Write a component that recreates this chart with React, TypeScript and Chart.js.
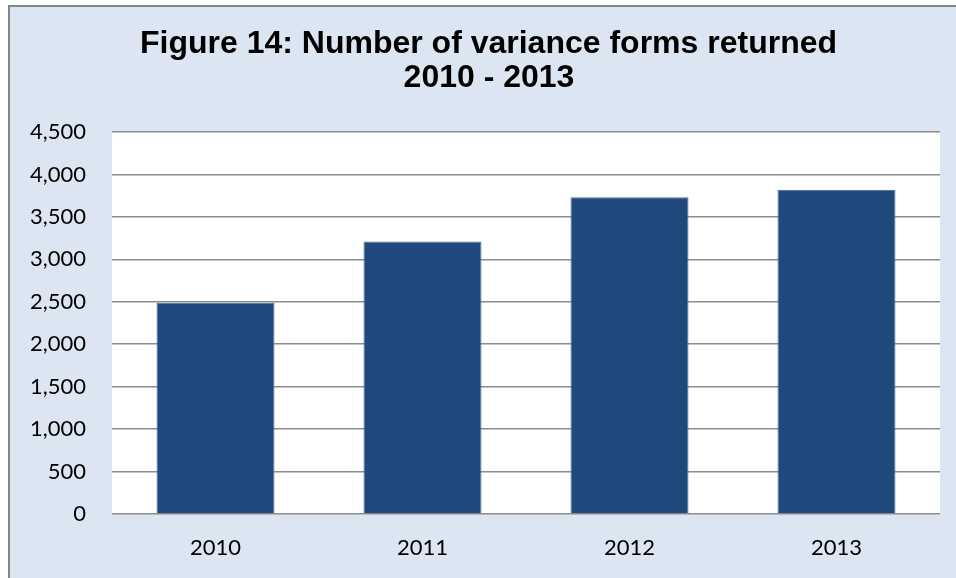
import React, { useEffect, useRef } from "react";
import { Chart, registerables } from "chart.js";

Chart.register(...registerables);

const titleLines = ["Figure 14: Number of variance forms returned", "2010 - 2013"];
const categories = ["2010", "2011", "2012", "2013"];
const formsReturned = [2490, 3210, 3730, 3820];
const yTickMax = 4500;
const yTickStep = 500;

const BAR_COLOR = "#1f497d";
const BG = "#dce6f2";

export default function App() {
  const ref = useRef<HTMLCanvasElement | null>(null);

  useEffect(() => {
    if (!ref.current) return;
    const plotBg = {
      id: "plotBg",
      beforeDraw(chart: any) {
        const { ctx, chartArea } = chart;
        ctx.save();
        ctx.fillStyle = "#ffffff";
        ctx.fillRect(chartArea.left, chartArea.top, chartArea.right - chartArea.left, chartArea.bottom - chartArea.top);
        ctx.restore();
      },
      afterDraw(chart: any) {
        const { ctx } = chart;
        ctx.save();
        ctx.fillStyle = "#000000";
        ctx.font = "bold 32px 'Liberation Sans', Arial, sans-serif";
        ctx.textAlign = "center";
        ctx.textBaseline = "middle";
        ctx.fillText(titleLines[0], 478.5, 37);
        ctx.fillText(titleLines[1], 479, 71);
        ctx.restore();
      },
    };

    const chart = new Chart(ref.current, {
      type: "bar",
      data: {
        labels: categories,
        datasets: [
          {
            data: formsReturned,
            backgroundColor: BAR_COLOR,
            borderColor: "#4a6a96",
            borderWidth: 1,
            barPercentage: 1,
            categoryPercentage: 0.57,
          },
        ],
      },
      options: {
        animation: false,
        responsive: false,
        maintainAspectRatio: false,
        layout: { padding: { top: 125, right: 16, bottom: 0, left: 0 } },
        plugins: {
          legend: { display: false },
          title: { display: false },
          tooltip: { enabled: false },
        },
        scales: {
          x: {
            grid: { display: false, drawTicks: false },
            border: { display: false },
            ticks: {
              color: "#000000",
              font: { family: "Lato", size: 22 },
              padding: 21,
            },
            afterFit(scale: any) {
              scale.height = 64;
            },
          },
          y: {
            min: 0,
            max: yTickMax,
            grid: { color: "#8c8c8c", lineWidth: 1.5, drawTicks: false },
            border: { display: false },
            ticks: {
              stepSize: yTickStep,
              color: "#000000",
              font: { family: "Lato", size: 22 },
              padding: 26,
              callback: (v: any) => Number(v).toLocaleString("en-US"),
            },
            afterFit(scale: any) {
              scale.width = 102;
            },
          },
        },
      },
      plugins: [plotBg],
    });
    return () => chart.destroy();
  }, []);

  return (
    <div style={{ position: "fixed", left: 0, top: 0, width: 956, height: 578, background: "#ffffff", overflow: "hidden" }}>
      <div
        style={{
          position: "absolute",
          left: 8,
          top: 5,
          width: 960,
          height: 590,
          background: BG,
          borderLeft: "2px solid #858585",
          borderTop: "2px solid #858585",
        }}
      >
        <canvas ref={ref} width={946} height={571} style={{ display: "block", width: 946, height: 571 }} />
      </div>
    </div>
  );
}
